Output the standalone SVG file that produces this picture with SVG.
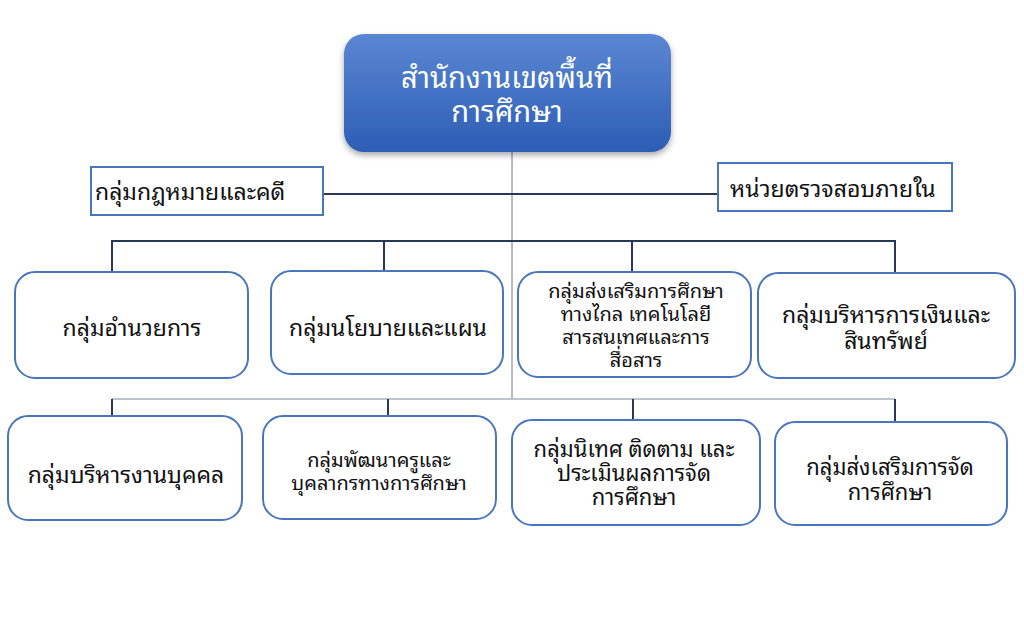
<svg xmlns="http://www.w3.org/2000/svg" width="1024" height="631" viewBox="0 0 1024 631">
<defs>
<linearGradient id="topGrad" x1="0" y1="0" x2="0" y2="1">
<stop offset="0" stop-color="#5b87d2"/>
<stop offset="1" stop-color="#2d5db5"/>
</linearGradient>
<filter id="shadow" x="-10%" y="-10%" width="120%" height="130%">
<feDropShadow dx="0" dy="3" stdDeviation="3" flood-color="#000" flood-opacity="0.35"/>
</filter>
</defs>
<style>
text{font-family:"Noto Sans Thai Looped","Tlwg Typo","Garuda","Loma","Noto Sans Thai","Noto Sans",sans-serif;fill:#111;text-anchor:middle}
.box{fill:#fff;stroke:#4a76bd;stroke-width:2}
.sq{fill:#fff;stroke:#4a76bd;stroke-width:2}
.dark{stroke:#2a3858;stroke-width:2;fill:none}
.thin{stroke:#6d7890;stroke-width:1;fill:none}
.light{stroke:#a8b0bf;stroke-width:1.5;fill:none}
.t23{font-size:23px}
.t22{font-size:22px}
.t20{font-size:20px}
.top{font-size:29px;fill:#fff}
</style>
<rect width="1024" height="631" fill="#fff"/>
<g id="connectors">
<line class="thin" x1="512" y1="152" x2="512" y2="399"/>
<line class="dark" x1="323" y1="194" x2="718" y2="194"/>
<polyline class="dark" points="112,272 112,241 895,241 895,272"/>
<line class="dark" x1="384" y1="241" x2="384" y2="271"/>
<line class="dark" x1="632" y1="241" x2="632" y2="272"/>
<line class="light" x1="112" y1="399" x2="895" y2="399"/>
<line class="dark" x1="112" y1="399" x2="112" y2="416"/>
<line class="dark" x1="388" y1="399" x2="388" y2="416"/>
<line class="dark" x1="633" y1="399" x2="633" y2="420"/>
<line class="dark" x1="895" y1="399" x2="895" y2="422"/>
</g>
<g id="top">
<rect x="344" y="34" width="327" height="118" rx="20" fill="url(#topGrad)" filter="url(#shadow)"/>
<text class="top" x="507" y="88">สำนักงานเขตพื้นที่</text>
<text class="top" x="507" y="122">การศึกษา</text>
</g>
<g id="legal">
<rect class="sq" x="91" y="167" width="232" height="48"/>
<text class="t23" x="95" y="200" style="text-anchor:start">กลุ่มกฎหมายและคดี</text>
</g>
<g id="audit">
<rect class="sq" x="718" y="163" width="234" height="48"/>
<text class="t23" x="730" y="197" style="text-anchor:start">หน่วยตรวจสอบภายใน</text>
</g>
<g id="admin">
<rect class="box" x="15" y="272" width="233" height="106" rx="20"/>
<text class="t23" x="132" y="336">กลุ่มอำนวยการ</text>
</g>
<g id="policy">
<rect class="box" x="271" y="271" width="232" height="103" rx="20"/>
<text class="t23" x="388" y="336">กลุ่มนโยบายและแผน</text>
</g>
<g id="ict">
<rect class="box" x="518" y="272" width="233" height="105" rx="20"/>
<text class="t20" x="636" y="298">กลุ่มส่งเสริมการศึกษา</text>
<text class="t20" x="636" y="321">ทางไกล เทคโนโลยี</text>
<text class="t20" x="636" y="344">สารสนเทศและการ</text>
<text class="t20" x="636" y="367">สื่อสาร</text>
</g>
<g id="finance">
<rect class="box" x="758" y="273" width="257" height="105" rx="20"/>
<text class="t23" x="886" y="323">กลุ่มบริหารการเงินและ</text>
<text class="t23" x="886" y="349">สินทรัพย์</text>
</g>
<g id="personnel">
<rect class="box" x="8" y="416" width="234" height="104" rx="20"/>
<text class="t23" x="126" y="483">กลุ่มบริหารงานบุคคล</text>
</g>
<g id="teacher">
<rect class="box" x="263" y="416" width="233" height="103" rx="20"/>
<text class="t20" x="379" y="467">กลุ่มพัฒนาครูและ</text>
<text class="t20" x="379" y="490">บุคลากรทางการศึกษา</text>
</g>
<g id="supervision">
<rect class="box" x="512" y="420" width="248" height="105" rx="20"/>
<text class="t22" x="634" y="457">กลุ่มนิเทศ ติดตาม และ</text>
<text class="t22" x="634" y="481">ประเมินผลการจัด</text>
<text class="t22" x="634" y="505">การศึกษา</text>
</g>
<g id="promotion">
<rect class="box" x="775" y="422" width="232" height="103" rx="20"/>
<text class="t22" x="890" y="475">กลุ่มส่งเสริมการจัด</text>
<text class="t22" x="890" y="500">การศึกษา</text>
</g>
</svg>
